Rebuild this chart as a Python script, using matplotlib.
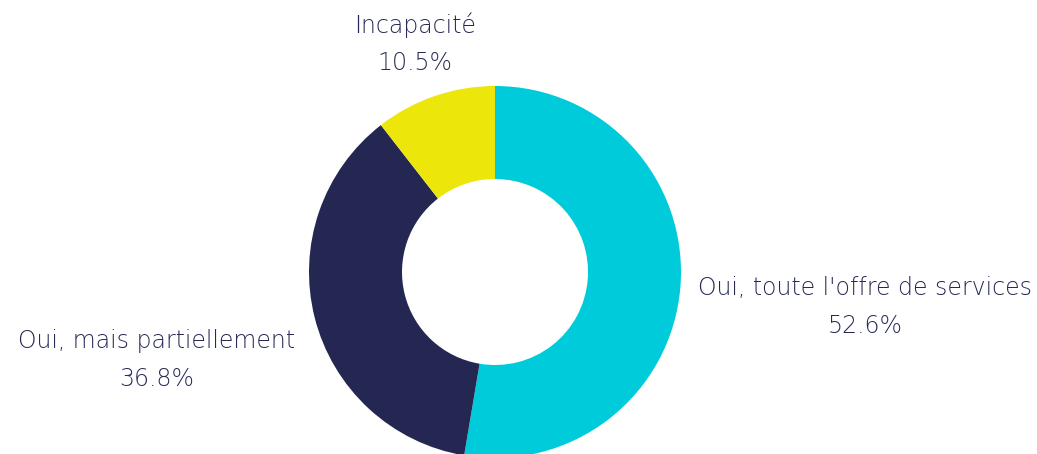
import matplotlib
matplotlib.use("Agg")
import matplotlib.pyplot as plt

categories = ["Oui, toute l'offre de services", "Oui, mais partiellement", "Incapacité"]
values = [52.6, 36.8, 10.5]
colors = ["#00CBDB", "#232751", "#EDE60A"]
text_color = "#262A55"

W, H = 1037, 454
fig = plt.figure(figsize=(W / 100, H / 100), dpi=100)
ax = fig.add_axes([0, 0, 1, 1])
cx, cy, R = 495, H - 272, 186
wedges, _ = ax.pie(values, colors=colors, startangle=90, counterclock=False,
                   center=(cx, cy), radius=R,
                   wedgeprops=dict(width=R * 0.5, edgecolor="none"))
ax.set_xlim(0, W)
ax.set_ylim(0, H)
ax.set_aspect("equal")
ax.axis("off")

label_pos = {
    categories[0]: (865, 288),
    categories[1]: (157, 341),
    categories[2]: (415, 25),
}
for cat, val in zip(categories, values):
    x, y = label_pos[cat]
    ax.text(x, H - y, cat, ha="center", va="center", fontsize=17,
            color=text_color, family="DejaVu Sans", fontweight="light")
    ax.text(x, H - y - 38, f"{val}%", ha="center", va="center", fontsize=17,
            color=text_color, family="DejaVu Sans", fontweight="light")

fig.savefig("out.png", dpi=100)
